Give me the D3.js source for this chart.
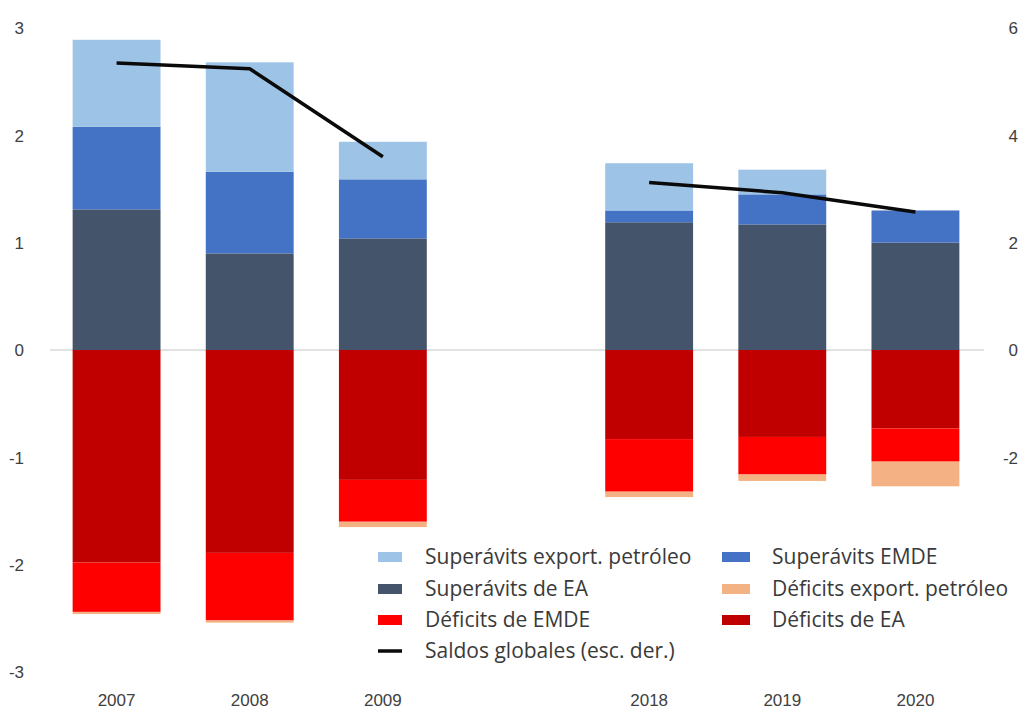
<!DOCTYPE html>
<html>
<head>
<meta charset="utf-8">
<script src="https://cdn.jsdelivr.net/npm/d3@7"></script>
<style>
  html, body { margin: 0; padding: 0; background: #ffffff; }
  svg { display: block; }
  .tick-label { font-family: "Liberation Sans", Arial, sans-serif; font-size: 17px; fill: #404040; }
  .legend-label { font-family: "Open Sans", Lato, sans-serif; font-size: 21px; fill: #3a3a3a; }
</style>
</head>
<body>
<svg id="chart" width="1024" height="713"></svg>
<script>
// Years shown on the horizontal axis (an empty slot separates the two periods)
const years = ["2007", "2008", "2009", "2018", "2019", "2020"];
const slots = ["2007", "2008", "2009", "gap", "2018", "2019", "2020"];

// Surpluses (% of world GDP)
const superavitsEA        = [1.31, 0.90, 1.04, 1.19, 1.17, 1.00];
const superavitsEMDE      = [0.77, 0.76, 0.55, 0.11, 0.28, 0.30];
const superavitsPetroleo  = [0.81, 1.02, 0.35, 0.44, 0.23, 0.00];

// Deficits (% of world GDP)
const deficitsEA          = [-1.98, -1.89, -1.21, -0.83, -0.81, -0.73];
const deficitsEMDE        = [-0.46, -0.63, -0.39, -0.49, -0.35, -0.31];
const deficitsPetroleo    = [-0.02, -0.02, -0.05, -0.05, -0.06, -0.23];

// Global balances, right-hand scale
const saldosGlobales      = [5.35, 5.24, 3.60, 3.12, 2.93, 2.57];

// Axis ticks
const leftTicks  = [-3, -2, -1, 0, 1, 2, 3];
const rightTicks = [-2, 0, 2, 4, 6];

const series = [
  { key: "supEA",   name: "Superávits de EA",           values: superavitsEA,       color: "#44546A" },
  { key: "supEMDE", name: "Superávits EMDE",            values: superavitsEMDE,     color: "#4472C4" },
  { key: "supPet",  name: "Superávits export. petróleo", values: superavitsPetroleo, color: "#9DC3E6" },
  { key: "defEA",   name: "Déficits de EA",             values: deficitsEA,         color: "#C00000" },
  { key: "defEMDE", name: "Déficits de EMDE",           values: deficitsEMDE,       color: "#FF0000" },
  { key: "defPet",  name: "Déficits export. petróleo",  values: deficitsPetroleo,   color: "#F4B183" }
];
const colorOf = Object.fromEntries(series.map(s => [s.key, s.color]));

const svg = d3.select("#chart");

const x = d3.scaleBand().domain(slots).range([50, 982]).paddingInner(0.34).paddingOuter(0.17);
const y = d3.scaleLinear().domain([-3, 3]).range([672, 28]);
const y2 = d3.scaleLinear().domain([-6, 6]).range([672, 28]);

// Plain hyphen-minus for negative tick labels
const fmt = v => (v < 0 ? "-" : "") + Math.abs(v);

// Zero line
svg.append("line")
  .attr("x1", 50).attr("x2", 984)
  .attr("y1", y(0)).attr("y2", y(0))
  .attr("stroke", "#d9d9d9").attr("stroke-width", 1.5);

// Stacked bars: positives build up from zero, negatives build down from zero
const rows = years.map((yr, i) => {
  const r = { year: yr };
  series.forEach(s => { r[s.key] = s.values[i]; });
  return r;
});
const stack = d3.stack()
  .keys(series.map(s => s.key))
  .offset(d3.stackOffsetDiverging);
const layers = stack(rows);

svg.append("g").selectAll("g")
  .data(layers)
  .join("g")
  .attr("fill", d => colorOf[d.key])
  .selectAll("rect")
  .data(d => d)
  .join("rect")
  .attr("x", d => x(d.data.year))
  .attr("width", x.bandwidth())
  .attr("y", d => y(Math.max(d[0], d[1])))
  .attr("height", d => Math.abs(y(d[0]) - y(d[1])));

// Global balance line (right scale), broken across the gap between periods
const linePts = slots.map(s => {
  const i = years.indexOf(s);
  return { slot: s, v: i < 0 ? null : saldosGlobales[i] };
});
const line = d3.line()
  .defined(d => d.v !== null)
  .x(d => x(d.slot) + x.bandwidth() / 2)
  .y(d => y2(d.v));
svg.append("path")
  .datum(linePts)
  .attr("d", line)
  .attr("fill", "none")
  .attr("stroke", "#0a0a0a")
  .attr("stroke-width", 3.5)
  .attr("stroke-linejoin", "round");

// Left axis labels
const yAxis = d3.axisLeft(y).tickValues(leftTicks).tickFormat(fmt).tickSize(0).tickPadding(0);
const gl = svg.append("g").attr("transform", "translate(24,0)").call(yAxis);
gl.select(".domain").remove();
gl.selectAll("text").attr("class", "tick-label").attr("dy", "0.35em");

// Right axis labels
const y2Axis = d3.axisLeft(y2).tickValues(rightTicks).tickFormat(fmt).tickSize(0).tickPadding(0);
const gr = svg.append("g").attr("transform", "translate(1018,0)").call(y2Axis);
gr.select(".domain").remove();
gr.selectAll("text").attr("class", "tick-label").attr("dy", "0.35em");

// Year labels
const xAxis = d3.axisBottom(x).tickValues(years).tickSize(0).tickPadding(0);
const gx = svg.append("g").attr("transform", "translate(0,700)").call(xAxis);
gx.select(".domain").remove();
gx.selectAll("text").attr("class", "tick-label").attr("dy", "0.35em");

// Legend
const legendItems = [
  { name: "Superávits export. petróleo", color: colorOf.supPet,  type: "rect", col: 0, row: 0 },
  { name: "Superávits EMDE",             color: colorOf.supEMDE, type: "rect", col: 1, row: 0 },
  { name: "Superávits de EA",            color: colorOf.supEA,   type: "rect", col: 0, row: 1 },
  { name: "Déficits export. petróleo",   color: colorOf.defPet,  type: "rect", col: 1, row: 1 },
  { name: "Déficits de EMDE",            color: colorOf.defEMDE, type: "rect", col: 0, row: 2 },
  { name: "Déficits de EA",              color: colorOf.defEA,   type: "rect", col: 1, row: 2 },
  { name: "Saldos globales (esc. der.)", color: "#0a0a0a",       type: "line", col: 0, row: 3 }
];
const colX = [[378, 425], [722, 772]];
const rowY = [557, 589, 620, 651];
const lg = svg.append("g");
const items = lg.selectAll("g").data(legendItems).join("g")
  .attr("transform", d => `translate(${colX[d.col][0]},${rowY[d.row]})`);
items.filter(d => d.type === "rect").append("rect")
  .attr("x", 0).attr("y", -5).attr("width", d => d.col === 0 ? 24 : 28).attr("height", 10)
  .attr("fill", d => d.color);
items.filter(d => d.type === "line").append("line")
  .attr("x1", 0).attr("x2", 24).attr("y1", 0).attr("y2", 0)
  .attr("stroke", d => d.color).attr("stroke-width", 3.5);
items.append("text")
  .attr("class", "legend-label")
  .attr("x", d => colX[d.col][1] - colX[d.col][0])
  .attr("dy", "0.35em")
  .text(d => d.name);
</script>
</body>
</html>
